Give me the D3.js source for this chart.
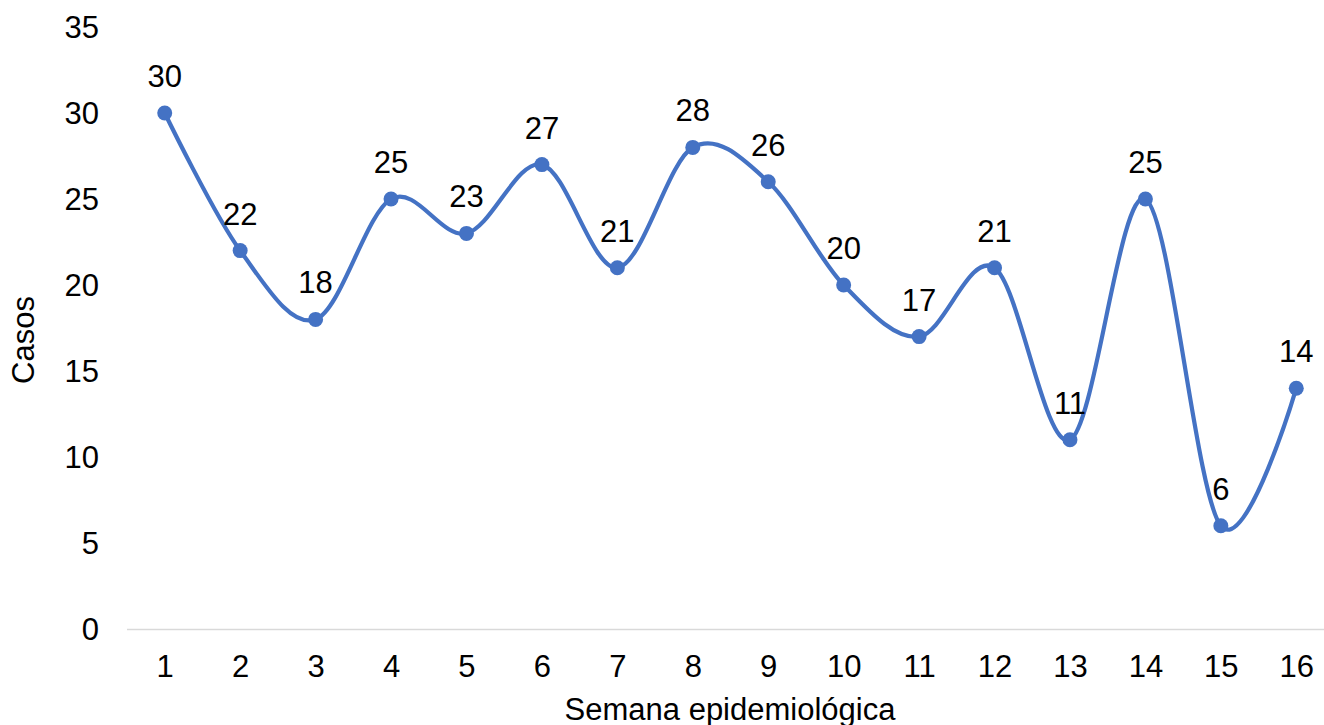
<!DOCTYPE html>
<html>
<head>
<meta charset="utf-8">
<script src="https://cdn.jsdelivr.net/npm/d3@7"></script>
<style>
  html, body { margin: 0; padding: 0; background: #fff; }
  svg { display: block; }
  text { font-family: "Liberation Sans", Arial, sans-serif; fill: #000; }
</style>
</head>
<body>
<svg id="chart" width="1324" height="725"></svg>
<script>
const weeks = ["1","2","3","4","5","6","7","8","9","10","11","12","13","14","15","16"];
const cases = [30,22,18,25,23,27,21,28,26,20,17,21,11,25,6,14];
const yTicks = [0,5,10,15,20,25,30,35];
const xTitle = "Semana epidemiológica";
const yTitle = "Casos";

(function () {
const svg = d3.select("#chart");
const pLeft = 127, pRight = 1334, pTop = 27, pBottom = 629;
const fs = 31;

const x = d3.scalePoint().domain(weeks).range([pLeft, pRight]).padding(0.5);
const y = d3.scaleLinear().domain([0, 35]).range([pBottom, pTop]);

// y axis labels (no line)
const yAxis = d3.axisLeft(y).tickValues(yTicks).tickSize(0).tickPadding(0);
const gy = svg.append("g").attr("transform", `translate(${pLeft - 28},0)`).call(yAxis);
gy.select(".domain").remove();
gy.selectAll("text").style("font-size", fs + "px").style("font-family", '"Liberation Sans", Arial, sans-serif').attr("fill", "#000").attr("dy", "0.35em");

// x axis
const xAxis = d3.axisBottom(x).tickSize(0).tickPadding(0);
const gx = svg.append("g").attr("transform", `translate(0,${pBottom})`).call(xAxis);
gx.select(".domain").attr("stroke", "#d9d9d9").attr("stroke-width", 1.5).attr("d", `M${pLeft},0.5H${pRight}`);
gx.selectAll("text").style("font-size", fs + "px").style("font-family", '"Liberation Sans", Arial, sans-serif').attr("fill", "#000").attr("dy", null).attr("y", 48);

// line
const line = d3.line()
  .x((d, i) => x(weeks[i]))
  .y(d => y(d))
  .curve(d3.curveCardinal.tension(0));

svg.append("path")
  .datum(cases)
  .attr("d", line)
  .attr("fill", "none")
  .attr("stroke", "#4472C4")
  .attr("stroke-width", 4.2)
  .attr("stroke-linejoin", "round");

svg.selectAll("circle.pt")
  .data(cases)
  .enter().append("circle")
  .attr("class", "pt")
  .attr("cx", (d, i) => x(weeks[i]))
  .attr("cy", d => y(d))
  .attr("r", 7.5)
  .attr("fill", "#4472C4");

svg.selectAll("text.lbl")
  .data(cases)
  .enter().append("text")
  .attr("class", "lbl")
  .attr("x", (d, i) => x(weeks[i]))
  .attr("y", d => y(d) - 26)
  .attr("text-anchor", "middle")
  .style("font-size", fs + "px")
  .text(d => d);

// axis titles
svg.append("text")
  .attr("x", 730)
  .attr("y", 720)
  .attr("text-anchor", "middle")
  .style("font-size", fs + "px")
  .text(xTitle);

svg.append("text")
  .attr("transform", `translate(34,340) rotate(-90)`)
  .attr("text-anchor", "middle")
  .style("font-size", fs + "px")
  .text(yTitle);
})();
</script>
</body>
</html>
